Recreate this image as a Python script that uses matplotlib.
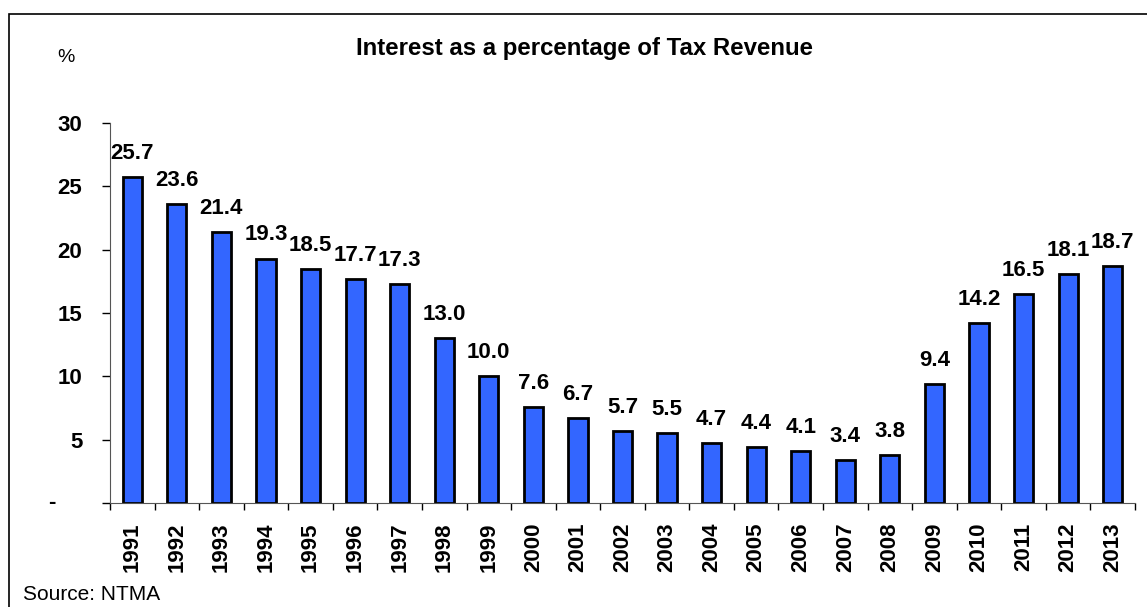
import matplotlib.pyplot as plt
from matplotlib.patches import Rectangle

plt.rcParams['font.family'] = ['Liberation Sans', 'DejaVu Sans']

years = ['1991', '1992', '1993', '1994', '1995', '1996', '1997', '1998', '1999', '2000',
         '2001', '2002', '2003', '2004', '2005', '2006', '2007', '2008', '2009', '2010',
         '2011', '2012', '2013']
values = [25.7, 23.6, 21.4, 19.3, 18.5, 17.7, 17.3, 13.0, 10.0, 7.6,
          6.7, 5.7, 5.5, 4.7, 4.4, 4.1, 3.4, 3.8, 9.4, 14.2,
          16.5, 18.1, 18.7]
y_ticks = [0, 5, 10, 15, 20, 25, 30]
y_labels = ['', '5', '10', '15', '20', '25', '30']

W, H = 1147, 607
fig = plt.figure(figsize=(W / 100, H / 100), dpi=100)

# outer frame (only left and top edges are visible in the picture)
fig.patches.append(Rectangle((9 / W, -0.1), 1.2, (H - 14) / H + 0.1, transform=fig.transFigure,
                             fill=False, edgecolor='black', linewidth=1.2))

ax = fig.add_axes([110 / W, 1 - 503 / H, (1135 - 110) / W, (503 - 123) / H])
x = list(range(len(years)))
bars = ax.bar(x, values, width=0.43, color='#3366FF', edgecolor='black', linewidth=2)

for xi, v in zip(x, values):
    ax.annotate(f'{v:.1f}', (xi, v), xytext=(0, 13), textcoords='offset points',
                ha='center', va='baseline', fontsize=16, fontweight='bold')

ax.set_xlim(-0.5, len(years) - 0.5)
ax.set_ylim(0, 30)
ax.set_yticks(y_ticks)
ax.set_yticklabels(y_labels, fontsize=16, fontweight='bold')
ax.tick_params(axis='y', length=6, width=1, pad=14)
# zero label is a dash, set further left like in the source chart
ax.text((52 - 110) / 1025, 0, '-', transform=ax.get_yaxis_transform(), ha='center', va='center',
        fontsize=16, fontweight='bold')

ax.set_xticks(x)
ax.set_xticklabels(years, rotation=90, fontsize=16, fontweight='bold')
ax.tick_params(axis='x', length=0, pad=14)
ax.set_xticks([i - 0.5 for i in range(len(years) + 1)], minor=True)
ax.tick_params(axis='x', which='minor', length=5, width=1)

for s in ['top', 'right']:
    ax.spines[s].set_visible(False)
ax.spines['left'].set_color('#555555')
ax.spines['bottom'].set_color('#555555')

fig.text(585 / W, 1 - 48 / H, 'Interest as a percentage of Tax Revenue', ha='center', va='center',
         fontsize=17.3, fontweight='bold')
fig.text(66 / W, 1 - 58 / H, '%', ha='center', va='center', fontsize=14)
fig.text(23 / W, 1 - 594 / H, 'Source: NTMA', ha='left', va='center', fontsize=15)

fig.savefig('out.png', dpi=100)
